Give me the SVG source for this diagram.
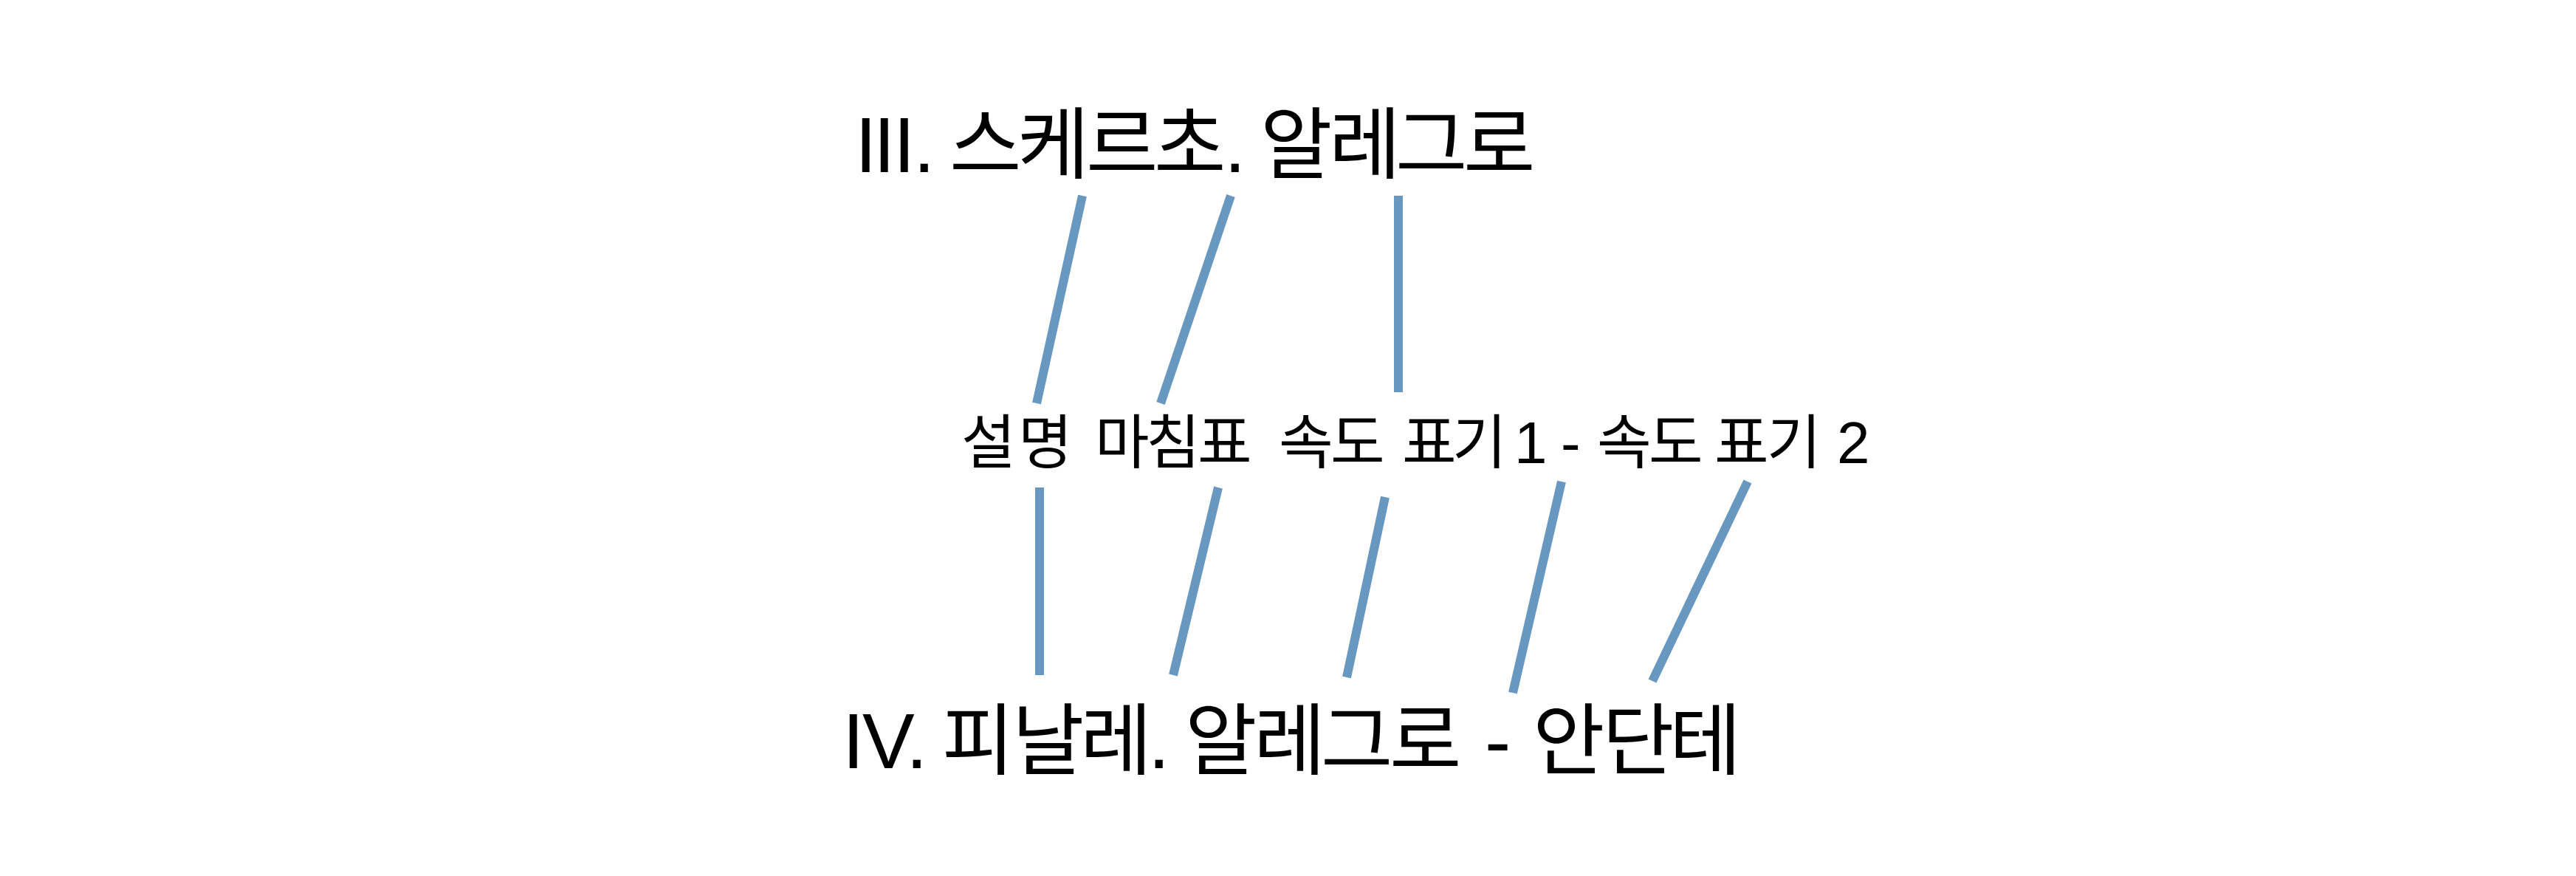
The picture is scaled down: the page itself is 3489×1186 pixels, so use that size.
<svg xmlns="http://www.w3.org/2000/svg" width="3489" height="1186" viewBox="0 0 3489 1186">
<style>
.t{font-family:"Liberation Sans","Noto Sans CJK KR",sans-serif;fill:#000}
.big{font-size:106px}
.mid{font-size:80px}
.c line{stroke:#6897bf;stroke-width:12}
</style>
<rect width="3489" height="1186" fill="#fff"/>
<g id="connectors" class="c">
<line x1="1466" y1="265" x2="1404" y2="546"/>
<line x1="1667" y1="265" x2="1572" y2="546"/>
<line x1="1894" y1="265" x2="1894" y2="531"/>
<line x1="1408" y1="660" x2="1408" y2="914"/>
<line x1="1650" y1="660" x2="1589" y2="914"/>
<line x1="1876" y1="673" x2="1824" y2="917"/>
<line x1="2115" y1="652" x2="2049" y2="938"/>
<line x1="2367" y1="652" x2="2238" y2="922"/>
</g>
<g id="top">
<text class="t big" y="233" x="1158 1183 1210 1237">III.</text>
<text class="t big" y="233" x="1286 1378 1471 1563 1658">스케르초.</text>
<text class="t big" y="233" x="1707 1800 1890 1982">알레그로</text>
</g>
<g id="middle">
<text class="t mid" y="627" x="1302 1379">설명</text>
<text class="t mid" y="627" x="1483 1552 1622">마침표</text>
<text class="t mid" y="627" x="1732 1802">속도</text>
<text class="t mid" y="627" x="1899 1967">표기</text>
<text class="t mid" y="627" x="2051">1</text>
<text class="t mid" y="627" x="2114">-</text>
<text class="t mid" y="627" x="2163 2233">속도</text>
<text class="t mid" y="627" x="2322 2393">표기</text>
<text class="t mid" y="627" x="2488">2</text>
</g>
<g id="bottom">
<text class="t big" y="1040" x="1141 1168 1227">IV.</text>
<text class="t big" y="1040" x="1276 1371 1463 1555">피날레.</text>
<text class="t big" y="1040" x="1605 1698 1789 1882">알레그로</text>
<text class="t big" y="1040" x="2011">-</text>
<text class="t big" y="1040" x="2076 2170 2261">안단테</text>
</g>
</svg>
